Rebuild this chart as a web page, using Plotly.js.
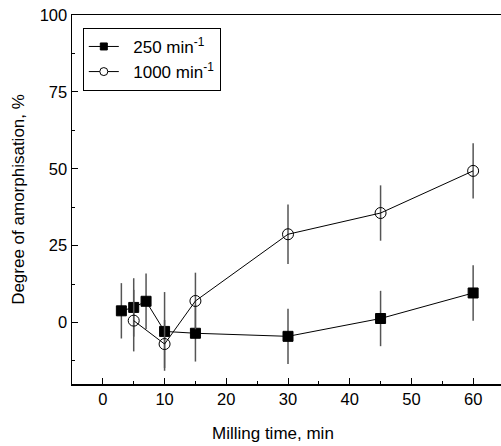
<!DOCTYPE html>
<html>
<head>
<meta charset="utf-8">
<script src="https://cdn.plot.ly/plotly-3.0.1.min.js"></script>
<style>
html, body { margin: 0; padding: 0; overflow: hidden; background: #fff; }
#chart { width: 510px; height: 446px; }
</style>
</head>
<body>
<div id="chart"></div>
<script>
// Data
var time250 = [3, 5, 7, 10, 15, 30, 45, 60];
var amorph250 = [3.8, 4.9, 6.9, -2.9, -3.5, -4.5, 1.3, 9.6];
var err250 = [9, 9.5, 9, 12.8, 9.2, 9, 9, 9];

var time1000 = [5, 10, 15, 30, 45, 60];
var amorph1000 = [0.6, -7.0, 7.0, 28.7, 35.6, 49.3];
var err1000 = [10, 7.8, 9.2, 9.7, 9, 9];

var seriesNames = ['250 min<sup>-1</sup>', '1000 min<sup>-1</sup>'];
var xTitle = 'Milling time, min';
var yTitle = 'Degree of amorphisation, %';

var font = 'Liberation Sans, Arial, sans-serif';
var pad = '\u00A0\u00A0';

var traces = [
  {
    x: time250, y: amorph250, name: seriesNames[0], showlegend: false,
    type: 'scatter', mode: 'lines+markers',
    line: {color: '#000', width: 1},
    marker: {symbol: 'square', size: 10, color: '#000', line: {color: '#000', width: 1}},
    error_y: {type: 'data', array: err250, visible: true, color: '#555', thickness: 1.5, width: 0}
  },
  {
    x: time1000, y: amorph1000, name: seriesNames[1], showlegend: false,
    type: 'scatter', mode: 'lines+markers',
    line: {color: '#000', width: 1},
    marker: {symbol: 'circle-open', size: 11, color: '#000', line: {color: '#000', width: 1}},
    error_y: {type: 'data', array: err1000, visible: true, color: '#555', thickness: 1.5, width: 0}
  },
  // legend entries (smaller symbols, as in the reference legend)
  {
    x: [null], y: [null], name: pad + seriesNames[0], showlegend: true,
    type: 'scatter', mode: 'lines+markers',
    line: {color: '#000', width: 1},
    marker: {symbol: 'square', size: 7, color: '#000', line: {color: '#000', width: 1}}
  },
  {
    x: [null], y: [null], name: pad + seriesNames[1], showlegend: true,
    type: 'scatter', mode: 'lines+markers',
    line: {color: '#000', width: 1},
    marker: {symbol: 'circle', size: 8, color: '#fff', line: {color: '#000', width: 1}}
  }
];

var layout = {
  width: 510, height: 446,
  margin: {l: 72, r: 6, t: 15, b: 62},
  paper_bgcolor: '#fff', plot_bgcolor: '#fff',
  font: {family: font, size: 17, color: '#000'},
  showlegend: true,
  legend: {
    x: 0.025, y: 0.965, xanchor: 'left', yanchor: 'top',
    bordercolor: '#000', borderwidth: 1, bgcolor: '#fff',
    font: {family: font, size: 17, color: '#000'},
    tracegroupgap: 2
  },
  xaxis: {
    range: [-5, 65], tick0: 0, dtick: 10,
    ticks: 'inside', ticklen: 6, tickwidth: 1, tickcolor: '#000',
    minor: {dtick: 5, ticks: 'inside', ticklen: 3, tickcolor: '#000'},
    showline: true, linecolor: '#000', linewidth: 1.5, mirror: true,
    showgrid: false, zeroline: false,
    tickfont: {family: font, size: 16.5}
  },
  yaxis: {
    range: [-20, 100], tick0: 0, dtick: 25,
    ticks: 'inside', ticklen: 6, tickwidth: 1, tickcolor: '#000',
    minor: {dtick: 12.5, ticks: 'inside', ticklen: 3, tickcolor: '#000'},
    showline: true, linecolor: '#000', linewidth: 1.5, mirror: true,
    showgrid: false, zeroline: false,
    tickfont: {family: font, size: 16.5},
    title: {text: yTitle, font: {family: font, size: 17}, standoff: 10}
  },
  annotations: [{
    text: xTitle, showarrow: false,
    xref: 'paper', yref: 'paper', x: 0.465, y: -0.133,
    xanchor: 'center', yanchor: 'middle',
    font: {family: font, size: 17, color: '#000'}
  }]
};

Plotly.newPlot('chart', traces, layout, {displayModeBar: false, staticPlot: true});
</script>
</body>
</html>
